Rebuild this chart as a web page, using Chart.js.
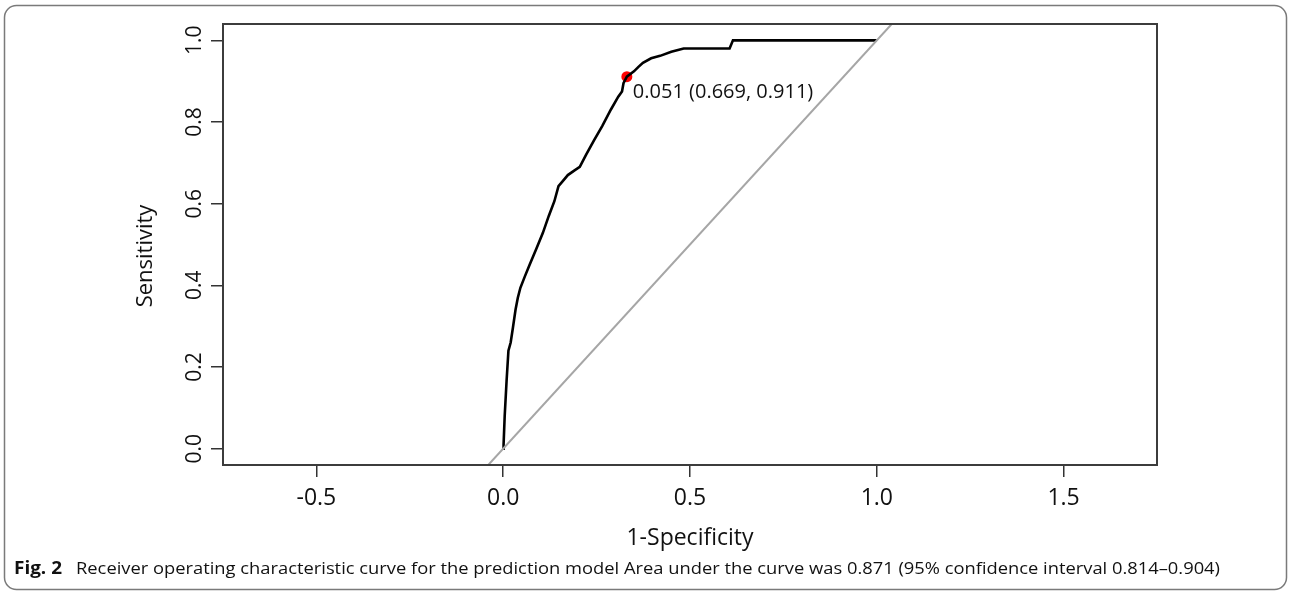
<!DOCTYPE html>
<html>
<head>
<meta charset="utf-8">
<script src="https://cdn.jsdelivr.net/npm/chart.js@4.4.1/dist/chart.umd.min.js"></script>
<style>
  html, body { margin: 0; padding: 0; background: #fff; }
  #roc { display: block; }
</style>
</head>
<body>
<canvas id="roc" width="1290" height="594"></canvas>
<script>
// ROC curve: x = 1 - specificity, y = sensitivity
const fprValues = [0, 0.001, 0.004, 0.009, 0.014, 0.02, 0.026, 0.033, 0.039, 0.046, 0.058, 0.071, 0.089, 0.106,
  0.122, 0.137, 0.148, 0.16, 0.173, 0.19, 0.205, 0.222, 0.243, 0.265, 0.288, 0.308, 0.318, 0.322, 0.331,
  0.35, 0.362, 0.374, 0.396, 0.42, 0.45, 0.483, 0.606, 0.615, 1.0];
const tprValues = [0, 0.01, 0.08, 0.165, 0.24, 0.26, 0.296, 0.34, 0.369, 0.394, 0.422, 0.451, 0.49, 0.528,
  0.57, 0.606, 0.643, 0.656, 0.67, 0.681, 0.69, 0.72, 0.755, 0.79, 0.83, 0.862, 0.875, 0.895, 0.911,
  0.924, 0.935, 0.945, 0.956, 0.962, 0.972, 0.98, 0.98, 1.0, 1.0];

// chance line (y = x), clipped to the plot range
const diagX = [-0.04, 1.04];
const diagY = [-0.04, 1.04];

// best threshold point
const cutoffX = [0.331];
const cutoffY = [0.911];
const cutoffLabel = '0.051 (0.669, 0.911)';

const xTicks = [-0.5, 0, 0.5, 1.0, 1.5];
const yTicks = [0, 0.2, 0.4, 0.6, 0.8, 1.0];

const xTitle = '1-Specificity';
const yTitle = 'Sensitivity';
const figTag = 'Fig. 2';
const figCaption = 'Receiver operating characteristic curve for the prediction model Area under the curve was 0.871 (95% confidence interval 0.814\u20130.904)';

const FONT = '"Open Sans", "DejaVu Sans", sans-serif';

const toPoints = (xs, ys) => xs.map((x, i) => ({ x: x, y: ys[i] }));

// draw text squeezed/stretched to an exact width (caption font is condensed)
function fitText(ctx, text, x, y, width) {
  const w = ctx.measureText(text).width;
  ctx.save();
  ctx.translate(x, y);
  ctx.scale(width / w, 1);
  ctx.fillText(text, 0, 0);
  ctx.restore();
}

// R-style extras: box, rotated y labels, point label, caption and frame
const rocDecor = {
  id: 'rocDecor',
  afterDraw(chart) {
    const ctx = chart.ctx;
    const area = chart.chartArea;
    const yScale = chart.scales.y;
    const xScale = chart.scales.x;

    ctx.save();
    // plot box
    ctx.strokeStyle = '#3c3c3c';
    ctx.lineWidth = 2;
    ctx.strokeRect(area.left, area.top, area.right - area.left, area.bottom - area.top);

    // y tick labels, rotated like R's las = 0
    ctx.fillStyle = '#111';
    ctx.font = '21px ' + FONT;
    ctx.textAlign = 'center';
    ctx.textBaseline = 'middle';
    yTicks.forEach(v => {
      const py = yScale.getPixelForValue(v);
      ctx.save();
      ctx.translate(195, py);
      ctx.rotate(-Math.PI / 2);
      ctx.fillText(v.toFixed(1), 0, 0);
      ctx.restore();
    });

    // y title
    ctx.save();
    ctx.font = '22px ' + FONT;
    ctx.translate(146, 256);
    ctx.rotate(-Math.PI / 2);
    ctx.fillText(yTitle, 0, 0);
    ctx.restore();

    // label next to the cutoff point
    const px = xScale.getPixelForValue(cutoffX[0]);
    const py = yScale.getPixelForValue(cutoffY[0]);
    ctx.font = '20px ' + FONT;
    ctx.textAlign = 'left';
    ctx.fillText(cutoffLabel, px + 6, py + 16);

    // caption
    ctx.textBaseline = 'middle';
    ctx.font = 'bold 17px ' + FONT;
    fitText(ctx, figTag, 14, 569, 48);
    ctx.font = '17px ' + FONT;
    fitText(ctx, figCaption, 76, 569, 1144);

    // rounded figure frame
    ctx.strokeStyle = '#7a7a7a';
    ctx.lineWidth = 1.5;
    ctx.beginPath();
    ctx.roundRect(4.5, 5.5, 1282, 584, 12);
    ctx.stroke();
    ctx.restore();
  }
};

new Chart(document.getElementById('roc'), {
  type: 'scatter',
  data: {
    datasets: [
      {
        label: 'chance',
        data: toPoints(diagX, diagY),
        showLine: true,
        borderColor: '#a6a6a6',
        borderWidth: 2,
        pointRadius: 0,
      },
      {
        label: 'ROC',
        data: toPoints(fprValues, tprValues),
        showLine: true,
        borderColor: '#000000',
        borderWidth: 2.6,
        pointRadius: 0,
        tension: 0,
      },
      {
        label: 'cutoff',
        data: toPoints(cutoffX, cutoffY),
        pointRadius: 5.5,
        backgroundColor: '#ff0000',
        borderWidth: 0,
      },
    ],
  },
  options: {
    responsive: false,
    animation: false,
    events: [],
    layout: {
      padding: { left: 0, top: 24, right: 133, bottom: 0 },
    },
    plugins: {
      legend: { display: false },
      tooltip: { enabled: false },
    },
    scales: {
      x: {
        type: 'linear',
        min: -0.75,
        max: 1.75,
        afterBuildTicks: (scale) => { scale.ticks = xTicks.map(v => ({ value: v })); },
        afterFit: (scale) => { scale.height = 129; },
        ticks: {
          autoSkip: false,
          maxRotation: 0,
          padding: 8,
          color: '#111',
          font: { family: FONT, size: 23 },
          callback: (v) => Number(v).toFixed(1),
        },
        grid: {
          drawOnChartArea: false,
          tickLength: 12,
          color: '#333',
          lineWidth: 1.5,
        },
        border: { display: false },
        title: {
          display: true,
          text: xTitle,
          color: '#111',
          font: { family: FONT, size: 23 },
          padding: { top: 0, bottom: 42 },
        },
      },
      y: {
        type: 'linear',
        min: -0.04,
        max: 1.04,
        afterBuildTicks: (scale) => { scale.ticks = yTicks.map(v => ({ value: v })); },
        afterFit: (scale) => { scale.width = 223; },
        ticks: { display: false },
        grid: {
          drawOnChartArea: false,
          tickLength: 12,
          color: '#333',
          lineWidth: 1.5,
        },
        border: { display: false },
        title: { display: false },
      },
    },
  },
  plugins: [rocDecor],
});
</script>
</body>
</html>
